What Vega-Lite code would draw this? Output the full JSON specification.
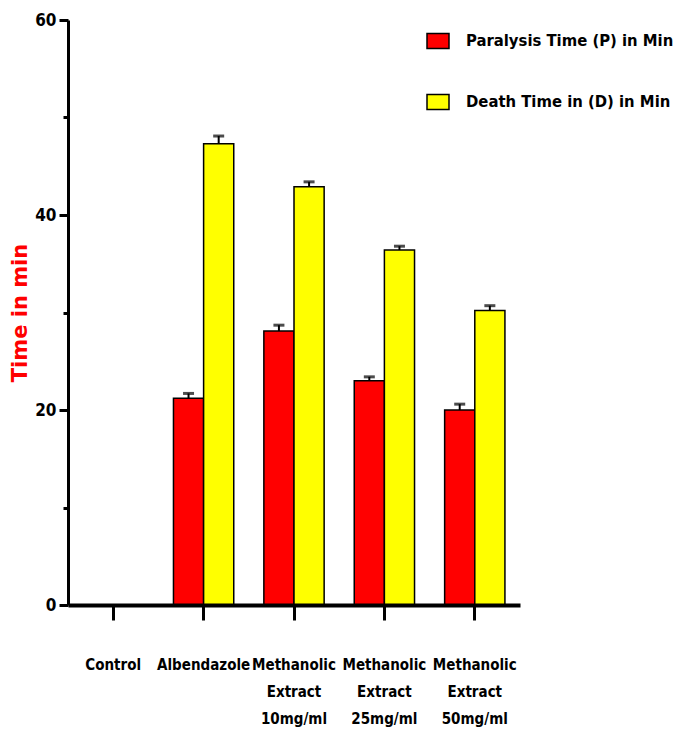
{
  "$schema": "https://vega.github.io/schema/vega-lite/v6.json",
  "width": 452,
  "height": 585,
  "autosize": "none",
  "padding": {"left": 68, "top": 20, "right": 157, "bottom": 124},
  "background": "white",
  "config": {
    "view": {"stroke": null},
    "font": "'DejaVu Sans Condensed', 'Liberation Sans', sans-serif"
  },
  "data": {
    "values": [
      {"group": "Control", "series": "Paralysis Time (P) in Min", "value": 0, "sem": 0},
      {"group": "Control", "series": "Death Time in (D) in Min", "value": 0, "sem": 0},
      {"group": "Albendazole", "series": "Paralysis Time (P) in Min", "value": 21.2, "sem": 0.5},
      {"group": "Albendazole", "series": "Death Time in (D) in Min", "value": 47.3, "sem": 0.8},
      {"group": "Methanolic|Extract|10mg/ml", "series": "Paralysis Time (P) in Min", "value": 28.1, "sem": 0.6},
      {"group": "Methanolic|Extract|10mg/ml", "series": "Death Time in (D) in Min", "value": 42.9, "sem": 0.5},
      {"group": "Methanolic|Extract|25mg/ml", "series": "Paralysis Time (P) in Min", "value": 23.0, "sem": 0.4},
      {"group": "Methanolic|Extract|25mg/ml", "series": "Death Time in (D) in Min", "value": 36.4, "sem": 0.4},
      {"group": "Methanolic|Extract|50mg/ml", "series": "Paralysis Time (P) in Min", "value": 20.0, "sem": 0.6},
      {"group": "Methanolic|Extract|50mg/ml", "series": "Death Time in (D) in Min", "value": 30.2, "sem": 0.5}
    ]
  },
  "encoding": {
    "x": {
      "field": "group",
      "type": "nominal",
      "sort": ["Control", "Albendazole", "Methanolic|Extract|10mg/ml", "Methanolic|Extract|25mg/ml", "Methanolic|Extract|50mg/ml"],
      "scale": {"paddingInner": 0.333, "paddingOuter": 0.1667},
      "axis": {
        "title": null,
        "labelAngle": 0,
        "labelExpr": "split(datum.label, '|')",
        "labelFontWeight": "bold",
        "labelFontSize": 15,
        "labelColor": "black",
        "labelLineHeight": 27,
        "labelPadding": 37,
        "labelBaseline": "top",
        "domainColor": "black",
        "domainWidth": 4,
        "tickColor": "black",
        "tickWidth": 3,
        "tickSize": 15,
        "zindex": 1
      }
    },
    "xOffset": {
      "field": "series",
      "type": "nominal",
      "sort": ["Paralysis Time (P) in Min", "Death Time in (D) in Min"],
      "scale": {"paddingInner": 0, "paddingOuter": 0}
    },
    "y": {
      "field": "value",
      "type": "quantitative",
      "scale": {"domain": [0, 60], "nice": false},
      "axis": {
        "title": "Time in min",
        "titleColor": "red",
        "titleFont": "DejaVu Sans",
        "titleFontWeight": "bold",
        "titleFontSize": 21,
        "titlePadding": 4,
        "values": [0, 10, 20, 30, 40, 50, 60],
        "labelExpr": "datum.value % 20 === 0 ? datum.label : ''",
        "labelFontWeight": "bold",
        "labelFontSize": 17,
        "labelColor": "black",
        "labelPadding": 3,
        "domainColor": "black",
        "domainWidth": 3,
        "tickColor": "black",
        "tickWidth": 3,
        "tickSize": {"condition": {"test": "datum.value % 20 === 0", "value": 9}, "value": 5},
        "grid": false,
        "zindex": 1
      }
    }
  },
  "layer": [
    {
      "transform": [{"filter": "datum.sem > 0"}],
      "mark": {"type": "errorbar", "ticks": {"size": 11, "thickness": 3, "color": "black"}, "rule": {"strokeWidth": 2, "color": "black"}},
      "encoding": {
        "yError": {"field": "sem"}
      }
    },
    {
      "mark": {"type": "bar", "stroke": "black", "strokeWidth": 1.5},
      "encoding": {
        "fill": {
          "field": "series",
          "type": "nominal",
          "sort": ["Paralysis Time (P) in Min", "Death Time in (D) in Min"],
          "scale": {"range": ["#ff0000", "#ffff00"]},
          "legend": {
            "title": null,
            "orient": "none",
            "legendX": 358,
            "legendY": 9,
            "symbolType": "M-1,-0.68H1V0.68H-1Z",
            "symbolSize": 484,
            "symbolStrokeColor": "black",
            "symbolStrokeWidth": 1.5,
            "labelFontWeight": "bold",
            "labelFontSize": 16.5,
            "labelColor": "black",
            "labelOffset": 16,
            "rowPadding": 38,
            "labelLimit": 300
          }
        }
      }
    }
  ]
}
